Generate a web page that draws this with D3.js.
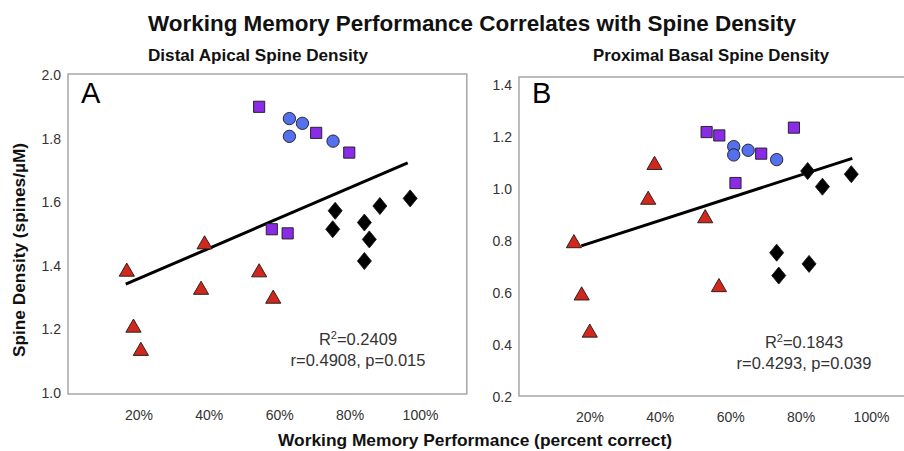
<!DOCTYPE html>
<html>
<head>
<meta charset="utf-8">
<script src="https://cdn.jsdelivr.net/npm/d3@7"></script>
<style>
  body { margin: 0; background: #fff; }
  svg { display: block; }
  .tick text { font-family: Arial, "Liberation Sans", sans-serif; font-size: 14px; fill: #333; }
  .cond { font-family: "Liberation Sans Narrow", "Arial Narrow", Arial, sans-serif; font-weight: bold; fill: #111; }
</style>
</head>
<body>
<svg id="chart" width="904" height="451"></svg>
<script>
// percent correct / spine density
var triA_x = [16.7, 18.6, 20.7, 37.8, 38.8, 54.3, 58.3];
var triA_y = [1.381, 1.205, 1.132, 1.324, 1.467, 1.379, 1.296];
var sqA_x = [54.3, 70.5, 79.9, 57.9, 62.4];
var sqA_y = [1.900, 1.818, 1.756, 1.515, 1.502];
var cirA_x = [62.9, 66.6, 62.9, 75.3];
var cirA_y = [1.863, 1.848, 1.807, 1.792];
var diaA_x = [75.9, 75.2, 84.2, 85.6, 84.2, 88.6, 97.2];
var diaA_y = [1.573, 1.515, 1.536, 1.483, 1.415, 1.588, 1.612];
var fitA = [[16.4, 1.342], [96.5, 1.724]];

var triB_x = [15.6, 17.8, 20.1, 36.7, 38.5, 52.9, 56.8];
var triB_y = [0.791, 0.590, 0.447, 0.958, 1.092, 0.887, 0.622];
var sqB_x = [53.3, 56.9, 68.8, 61.5, 78.1];
var sqB_y = [1.219, 1.206, 1.136, 1.023, 1.236];
var cirB_x = [61.0, 61.0, 65.1, 73.2];
var cirB_y = [1.163, 1.131, 1.149, 1.113];
var diaB_x = [82.0, 86.2, 94.4, 73.2, 73.8, 82.4];
var diaB_y = [1.069, 1.009, 1.057, 0.755, 0.667, 0.712];
var fitB = [[17.7, 0.781], [94.7, 1.118]];

var xTicks = [20, 40, 60, 80, 100];
var yTicksA = [1.0, 1.2, 1.4, 1.6, 1.8, 2.0];
var yTicksB = [0.2, 0.4, 0.6, 0.8, 1.0, 1.2, 1.4];

var svg = d3.select("#chart");

svg.append("text").attr("class", "cond")
    .attr("x", 472).attr("y", 31)
    .attr("text-anchor", "middle")
    .attr("font-size", 22)
    .attr("textLength", 648).attr("lengthAdjust", "spacingAndGlyphs")
    .text("Working Memory Performance Correlates with Spine Density");

svg.append("text").attr("class", "cond")
    .attr("x", 475).attr("y", 446)
    .attr("text-anchor", "middle")
    .attr("font-size", 17)
    .attr("textLength", 394).attr("lengthAdjust", "spacingAndGlyphs")
    .text("Working Memory Performance (percent correct)");

svg.append("text").attr("class", "cond")
    .attr("transform", "translate(25,250) rotate(-90)")
    .attr("text-anchor", "middle")
    .attr("font-size", 17)
    .attr("textLength", 214).attr("lengthAdjust", "spacingAndGlyphs")
    .text("Spine Density (spines/µM)");

function zip(xs, ys) {
    return xs.map(function(v, i) { return [v, ys[i]]; });
}

var diamond = "M0,-8.5L7,0L0,8.5L-7,0Z";

function panel(opt) {
    var x = d3.scaleLinear().domain([0, 100]).range([opt.left, opt.left + 352]);
    var y = d3.scaleLinear().domain(opt.yDomain).range(opt.yRange);
    var g = svg.append("g");

    g.append("text").attr("class", "cond")
        .attr("x", opt.subX).attr("y", 61)
        .attr("text-anchor", "middle")
        .attr("font-size", 17)
        .attr("textLength", opt.subW).attr("lengthAdjust", "spacingAndGlyphs")
        .text(opt.sub);

    // plot frame
    g.append("rect")
        .attr("x", x(0)).attr("y", opt.boxTop)
        .attr("width", x(113.3) - x(0))
        .attr("height", opt.boxBottom - opt.boxTop)
        .attr("fill", "none").attr("stroke", "#a6a6a6").attr("stroke-width", 1.5);

    var yAxis = g.append("g")
        .attr("transform", "translate(" + (x(0) - 4) + ",0)")
        .call(d3.axisLeft(y).tickValues(opt.yTicks).tickFormat(d3.format(".1f")).tickSize(0).tickPadding(3));
    yAxis.select(".domain").remove();

    var xAxis = g.append("g")
        .attr("transform", "translate(0," + (opt.boxBottom + 13) + ")")
        .call(d3.axisBottom(x).tickValues(xTicks).tickFormat(function(d) { return d + "%"; }).tickSize(0));
    xAxis.select(".domain").remove();

    g.append("text")
        .attr("x", x(0) + 13).attr("y", 103)
        .attr("font-family", "Arial, 'Liberation Sans', sans-serif")
        .attr("font-size", 29).attr("fill", "#000")
        .text(opt.letter);

    // regression line
    g.append("path")
        .attr("d", d3.line().x(function(d) { return x(d[0]); }).y(function(d) { return y(d[1]); })(opt.fit))
        .attr("stroke", "#000").attr("stroke-width", 3).attr("fill", "none");

    function marks(data, path, fill) {
        g.append("g").selectAll("path")
            .data(data).enter().append("path")
            .attr("d", path)
            .attr("transform", function(d) { return "translate(" + x(d[0]) + "," + y(d[1]) + ")"; })
            .attr("fill", fill)
            .attr("stroke", "#1a1a1a").attr("stroke-width", 0.9);
    }
    marks(opt.tri, d3.symbol().type(d3.symbolTriangle).size(100)(), "#d0281c");
    marks(opt.sq, d3.symbol().type(d3.symbolSquare).size(125)(), "#8a2be6");
    marks(opt.cir, d3.symbol().type(d3.symbolCircle).size(120)(), "#5570ef");
    marks(opt.dia, diamond, "#000");

    var stats = g.append("g")
        .attr("font-family", "Arial, 'Liberation Sans', sans-serif")
        .attr("font-size", 16.5).attr("fill", "#333")
        .attr("text-anchor", "middle");
    var r2 = stats.append("text").attr("x", opt.statX).attr("y", opt.statY);
    r2.append("tspan").text("R");
    r2.append("tspan").attr("dy", -6).attr("font-size", 11).text("2");
    r2.append("tspan").attr("dy", 6).text("=" + opt.r2);
    stats.append("text").attr("x", opt.statX).attr("y", opt.statY + 21).text(opt.rp);
}

panel({
    left: 68, yDomain: [1.0, 2.0], yRange: [393, 75], boxTop: 74, boxBottom: 394,
    yTicks: yTicksA, letter: "A", sub: "Distal Apical Spine Density", subX: 258, subW: 220,
    tri: zip(triA_x, triA_y), sq: zip(sqA_x, sqA_y), cir: zip(cirA_x, cirA_y), dia: zip(diaA_x, diaA_y),
    fit: fitA, r2: "0.2409", rp: "r=0.4908, p=0.015", statX: 358, statY: 345
});

panel({
    left: 519, yDomain: [0.2, 1.4], yRange: [397, 85], boxTop: 77, boxBottom: 396,
    yTicks: yTicksB, letter: "B", sub: "Proximal Basal Spine Density", subX: 711, subW: 236,
    tri: zip(triB_x, triB_y), sq: zip(sqB_x, sqB_y), cir: zip(cirB_x, cirB_y), dia: zip(diaB_x, diaB_y),
    fit: fitB, r2: "0.1843", rp: "r=0.4293, p=0.039", statX: 804, statY: 348
});
</script>
</body>
</html>
